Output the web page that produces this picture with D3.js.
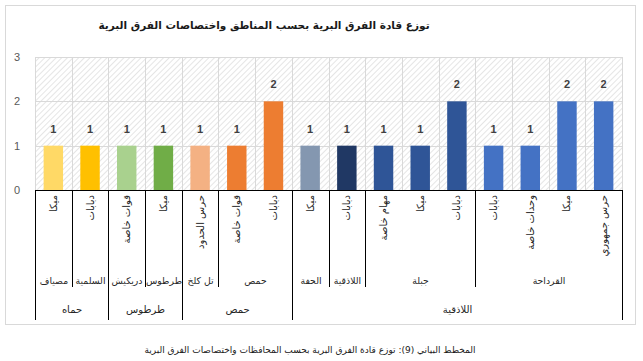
<!DOCTYPE html>
<html lang="ar">
<head>
<meta charset="utf-8">
<script src="https://cdn.jsdelivr.net/npm/d3@7"></script>
<style>
  html, body { margin: 0; padding: 0; background: #fff; }
  svg { display: block; font-family: "DejaVu Sans", sans-serif; }
</style>
</head>
<body>
<div id="chart"></div>
<script>
// Chart data, left to right as drawn
const units = ['ميكا', 'دبابات', 'قوات خاصة', 'ميكا', 'حرس الحدود', 'قوات خاصة', 'دبابات',
  'ميكا', 'دبابات', 'مهام خاصة', 'ميكا', 'دبابات', 'دبابات', 'وحدات خاصة', 'ميكا', 'حرس جمهوري'];
const cities = ['مصياف', 'السلمية', 'دريكيش', 'طرطوس', 'تل كلخ', 'حمص', 'حمص',
  'الحفة', 'اللاذقية', 'جبلة', 'جبلة', 'جبلة', 'القرداحة', 'القرداحة', 'القرداحة', 'القرداحة'];
const provinces = ['حماه', 'حماه', 'طرطوس', 'طرطوس', 'حمص', 'حمص', 'حمص',
  'اللاذقية', 'اللاذقية', 'اللاذقية', 'اللاذقية', 'اللاذقية', 'اللاذقية', 'اللاذقية', 'اللاذقية', 'اللاذقية'];
const counts = [1, 1, 1, 1, 1, 1, 2, 1, 1, 1, 1, 2, 1, 1, 2, 2];
const barColors = ['#FFD966', '#FFC000', '#A9D18E', '#70AD47', '#F4B183', '#ED7D31', '#ED7D31',
  '#8497B0', '#203864', '#2F5597', '#2F5597', '#2F5597', '#4472C4', '#4472C4', '#4472C4', '#4472C4'];
const yTicks = [0, 1, 2, 3];

const title = 'توزع قادة الفرق البرية بحسب المناطق واختصاصات الفرق البرية';
const caption = 'المخطط البياني (9): توزع قادة الفرق البرية بحسب المحافظات واختصاصات الفرق البرية';

const width = 643, height = 361;
const plot = { left: 35, right: 622, top: 57, bottom: 190 };

const svg = d3.select('#chart').append('svg')
  .attr('width', width)
  .attr('height', height);

// hatched plot background
const defs = svg.append('defs');
const pat = defs.append('pattern')
  .attr('id', 'hatch')
  .attr('patternUnits', 'userSpaceOnUse')
  .attr('width', 4).attr('height', 4)
  .attr('patternTransform', 'rotate(45)');
pat.append('line')
  .attr('x1', 0).attr('y1', 0).attr('x2', 0).attr('y2', 4)
  .attr('stroke', '#d4d4d4').attr('stroke-width', 1.2);

// chart frame
svg.append('rect')
  .attr('x', 5.5).attr('y', 5.5)
  .attr('width', 630).attr('height', 319)
  .attr('fill', '#fff')
  .attr('stroke', '#d9d9d9');

svg.append('text')
  .attr('x', 264).attr('y', 29)
  .attr('text-anchor', 'middle')
  .attr('font-size', 10.5)
  .attr('font-weight', 'bold')
  .attr('fill', '#1a1a1a')
  .text(title);

const idx = d3.range(units.length);
const x = d3.scaleBand()
  .domain(idx)
  .range([plot.left, plot.right])
  .paddingInner(0.47)
  .paddingOuter(0.235);
const step = x.step();

const y = d3.scaleLinear()
  .domain([0, 3])
  .range([plot.bottom, plot.top]);

svg.append('rect')
  .attr('x', plot.left).attr('y', plot.top)
  .attr('width', plot.right - plot.left)
  .attr('height', plot.bottom - plot.top)
  .attr('fill', 'url(#hatch)');

// gridlines
const grid = svg.append('g').attr('stroke', '#d9d9d9').attr('stroke-width', 1);
grid.selectAll('line.h')
  .data(yTicks)
  .join('line')
  .attr('class', 'h')
  .attr('x1', plot.left).attr('x2', plot.right)
  .attr('y1', d => Math.round(y(d)) + 0.5)
  .attr('y2', d => Math.round(y(d)) + 0.5);
grid.selectAll('line.v')
  .data(d3.range(units.length + 1))
  .join('line')
  .attr('class', 'v')
  .attr('x1', i => Math.round(plot.left + i * step) + 0.5)
  .attr('x2', i => Math.round(plot.left + i * step) + 0.5)
  .attr('y1', plot.top).attr('y2', plot.bottom);

// y axis (labels only)
const yAxis = svg.append('g')
  .attr('transform', 'translate(20,0)')
  .call(d3.axisLeft(y).tickValues(yTicks).tickSize(0).tickPadding(0).tickFormat(d3.format('d')));
yAxis.select('.domain').remove();
yAxis.selectAll('text')
  .attr('font-size', 11)
  .attr('font-family', '"Liberation Sans", Arial, sans-serif')
  .attr('fill', '#595959');

// bars
svg.append('g')
  .selectAll('rect')
  .data(idx)
  .join('rect')
  .attr('x', i => x(i))
  .attr('y', i => y(counts[i]))
  .attr('width', x.bandwidth())
  .attr('height', i => y(0) - y(counts[i]))
  .attr('fill', i => barColors[i]);

// value labels
svg.append('g')
  .selectAll('text')
  .data(idx)
  .join('text')
  .attr('x', i => x(i) + x.bandwidth() / 2)
  .attr('y', i => y(counts[i]) - 13)
  .attr('text-anchor', 'middle')
  .attr('font-size', 11)
  .attr('font-weight', 'bold')
  .attr('font-family', '"Liberation Sans", Arial, sans-serif')
  .attr('fill', '#404040')
  .text(i => counts[i]);

// multi-level category axis
const axis = svg.append('g');
axis.append('line')
  .attr('x1', plot.left).attr('x2', plot.right)
  .attr('y1', plot.bottom + 0.5).attr('y2', plot.bottom + 0.5)
  .attr('stroke', '#000');

// level 1: unit type, rotated
axis.selectAll('text.unit')
  .data(idx)
  .join('text')
  .attr('class', 'unit')
  .attr('transform', i => `translate(${x(i) + x.bandwidth() / 2},195) rotate(-90)`)
  .attr('text-anchor', 'end')
  .attr('dominant-baseline', 'central')
  .attr('font-size', 10)
  .attr('fill', '#262626')
  .text(i => units[i]);

// group consecutive categories
function spans(keyFn) {
  const out = [];
  idx.forEach(i => {
    const k = keyFn(i);
    const last = out[out.length - 1];
    if (last && last.key === k) last.end = i;
    else out.push({ key: k, start: i, end: i });
  });
  return out;
}
const citySpans = spans(i => provinces[i] + '|' + cities[i]);
const provSpans = spans(i => provinces[i]);

const edge = i => Math.round(plot.left + i * step) + 0.5;

// boundaries: city level lines stop above province row
axis.selectAll('line.city')
  .data(citySpans.map(s => s.start))
  .join('line')
  .attr('class', 'city')
  .attr('x1', edge).attr('x2', edge)
  .attr('y1', plot.bottom).attr('y2', 287)
  .attr('stroke', '#000');
axis.selectAll('line.prov')
  .data(provSpans.map(s => s.start).concat([units.length]))
  .join('line')
  .attr('class', 'prov')
  .attr('x1', edge).attr('x2', edge)
  .attr('y1', plot.bottom).attr('y2', 320)
  .attr('stroke', '#000');

axis.selectAll('text.city')
  .data(citySpans)
  .join('text')
  .attr('class', 'city')
  .attr('x', s => (edge(s.start) + edge(s.end + 1)) / 2)
  .attr('y', 280)
  .attr('text-anchor', 'middle')
  .attr('dominant-baseline', 'central')
  .attr('font-size', 9.3)
  .attr('fill', '#262626')
  .text(s => cities[s.start]);

axis.selectAll('text.prov')
  .data(provSpans)
  .join('text')
  .attr('class', 'prov')
  .attr('x', s => (edge(s.start) + edge(s.end + 1)) / 2)
  .attr('y', 309)
  .attr('text-anchor', 'middle')
  .attr('dominant-baseline', 'central')
  .attr('font-size', 10)
  .attr('fill', '#262626')
  .text(s => provinces[s.start]);

svg.append('text')
  .attr('x', 310).attr('y', 353)
  .attr('text-anchor', 'middle')
  .attr('font-size', 9)
  .attr('fill', '#1a1a1a')
  .text(caption);
</script>
</body>
</html>
